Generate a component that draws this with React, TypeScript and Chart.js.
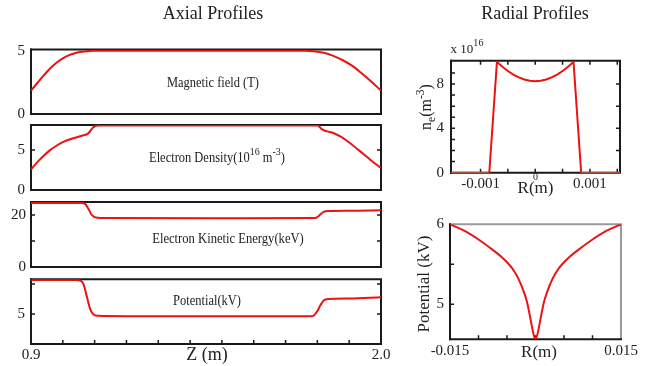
import React, { useEffect, useRef } from 'react';
import { Chart, registerables } from 'chart.js';

Chart.register(...registerables);

const W = 647;
const H = 366;
const SERIF = '"Liberation Serif", "Times New Roman", serif';
const RED = 'rgb(236, 18, 18)';
const INK = '#222';

// ---------- Axial profiles (Z in m) ----------
const zField = [0.90, 0.92, 0.94, 0.96, 0.98, 1.00, 1.02, 1.04, 1.06, 1.08, 1.10, 1.13, 1.76, 1.79, 1.82, 1.85, 1.88, 1.91, 1.94, 1.97, 2.00];
const bField = [1.85, 2.45, 3.05, 3.6, 4.05, 4.4, 4.65, 4.82, 4.92, 4.97, 5.0, 5.0, 5.0, 4.97, 4.85, 4.6, 4.25, 3.8, 3.2, 2.55, 1.85];

const zDensity = [0.90, 0.92, 0.94, 0.96, 0.98, 1.00, 1.03, 1.06, 1.08, 1.095, 1.11, 1.80, 1.815, 1.83, 1.85, 1.875, 1.90, 1.93, 1.96, 1.98, 2.00];
const nDensity = [2.6, 3.5, 4.3, 5.0, 5.55, 6.0, 6.45, 6.8, 7.1, 7.85, 8.1, 8.1, 7.6, 7.35, 7.15, 6.65, 5.95, 5.0, 4.0, 3.35, 2.75];

const zEnergy = [0.90, 1.06, 1.07, 1.08, 1.09, 1.10, 1.12, 1.50, 1.79, 1.80, 1.81, 1.82, 1.835, 1.90, 2.00];
const eEnergy = [24.6, 24.6, 24.3, 22.5, 20.2, 19.2, 18.85, 18.75, 18.8, 19.2, 20.3, 21.2, 21.5, 21.6, 21.8];

const zPotential = [0.90, 1.04, 1.055, 1.065, 1.075, 1.085, 1.095, 1.11, 1.20, 1.78, 1.79, 1.80, 1.81, 1.82, 1.835, 1.90, 2.00];
const vPotential = [6.14, 6.14, 6.12, 6.0, 5.6, 5.2, 5.0, 4.94, 4.93, 4.93, 4.96, 5.1, 5.3, 5.45, 5.5, 5.52, 5.56];

// ---------- Radial profiles (R in m) ----------
const rDensity = [-0.00154, -0.00084, -0.0007, -0.00065, -0.0006, -0.0005, -0.0004, -0.0003, -0.0002, -0.0001, 0, 0.0001, 0.0002, 0.0003, 0.0004, 0.0005, 0.0006, 0.00065, 0.0007, 0.00084, 0.00155];
const nRadial = [0, 0, 10.0, 9.77, 9.55, 9.17, 8.85, 8.6, 8.4, 8.29, 8.25, 8.29, 8.4, 8.6, 8.85, 9.17, 9.55, 9.77, 10.0, 0, 0];

const rPotential = [-0.015, -0.0125, -0.01, -0.0075, -0.006, -0.005, -0.004, -0.003, -0.002, -0.0015, -0.001, -0.0006, -0.0003, 0, 0.0003, 0.0006, 0.001, 0.0015, 0.002, 0.003, 0.004, 0.005, 0.006, 0.0075, 0.01, 0.0125, 0.015];
const vRadial = [6.0, 5.92, 5.81, 5.68, 5.595, 5.525, 5.44, 5.32, 5.145, 5.03, 4.86, 4.71, 4.61, 4.565, 4.61, 4.71, 4.86, 5.03, 5.145, 5.32, 5.44, 5.525, 5.595, 5.68, 5.81, 5.92, 6.0];

// ---------- tick values ----------
const zTickLabels = [0.9, 2.0];
const zTickMarks = [1.0, 1.1, 1.2, 1.3, 1.4, 1.5, 1.6, 1.7, 1.8, 1.9];
const fieldTickLabels = [0, 5];
const densityTickLabels = [0, 5];
const densityTickMarks = [5];
const energyTickLabels = [0, 20];
const energyTickMarks = [10, 20];
const potentialTickLabels = [5];
const potentialTickMarks = [5, 6];
const rnTickLabelsY = [0, 4, 8];
const rnTickMarksL = [1, 2, 3, 4, 5, 6, 7, 8, 9];
const rnTickMarksR = [2, 4, 6, 8];
const rnTickLabelsX = [-0.001, 0.001];
const rnTickMarksX = [-0.001, -0.0005, 0, 0.0005, 0.001, 0.0015];
const rvTickLabelsY = [5, 6];
const rvTickMarksL = [5, 5.5];
const rvTickLabelsX = [-0.015, 0.015];
const rvTickMarksX = [-0.01, -0.005, 0, 0.005, 0.01];

type Seg = { t: string; dy?: number; k?: number };
type TextItem = { segs: Seg[]; x: number; y: number; size: number; sx?: number; rot?: boolean };
type Edge = { t: string; r: string; b: string; l: string };
type PanelSpec = {
  key: string;
  area: { l: number; t: number; r: number; b: number };
  xs: number[];
  ys: number[];
  xRange: [number, number];
  yRange: [number, number];
  yLabels: number[];
  xLabels: number[];
  xFmt: (v: number) => string;
  xPad: number;
  yPad: number;
  xAxisH: number;
  tickL: number[];
  tickR: number[];
  tickB: number[];
  tickT: number[];
  edge: Edge;
  texts: TextItem[];
  smooth: boolean;
  zeroTint?: boolean;
};

const BLACK_EDGE: Edge = { t: '#1a1a1a', r: '#1a1a1a', b: '#1a1a1a', l: '#1a1a1a' };
const plain = (t: string): Seg[] => [{ t }];

function drawRich(ctx: CanvasRenderingContext2D, item: TextItem) {
  const fontOf = (s: Seg) => `${Math.round(item.size * (s.k ?? 1) * 10) / 10}px ${SERIF}`;
  const widths = item.segs.map((s) => {
    ctx.font = fontOf(s);
    return ctx.measureText(s.t).width;
  });
  const total = widths.reduce((a, b) => a + b, 0);
  ctx.save();
  ctx.translate(item.x, item.y);
  if (item.rot) ctx.rotate(-Math.PI / 2);
  ctx.scale(item.sx ?? 1, 1);
  ctx.fillStyle = INK;
  ctx.textAlign = 'left';
  ctx.textBaseline = 'middle';
  let x = -total / 2;
  item.segs.forEach((s, i) => {
    ctx.font = fontOf(s);
    ctx.fillText(s.t, x, (s.dy ?? 0) * item.size);
    x += widths[i];
  });
  ctx.restore();
}

function decoPlugin(spec: PanelSpec) {
  return {
    id: 'deco_' + spec.key,
    beforeDatasetsDraw(chart: any) {
      const { ctx, chartArea: a, scales } = chart;
      const xS = scales.x;
      const yS = scales.y;
      const TL = 4;
      ctx.save();
      ctx.strokeStyle = '#1a1a1a';
      ctx.lineWidth = 1.5;
      ctx.beginPath();
      spec.tickL.forEach((v) => { const y = yS.getPixelForValue(v); ctx.moveTo(a.left, y); ctx.lineTo(a.left + TL, y); });
      spec.tickR.forEach((v) => { const y = yS.getPixelForValue(v); ctx.moveTo(a.right, y); ctx.lineTo(a.right - TL, y); });
      spec.tickB.forEach((v) => { const x = xS.getPixelForValue(v); ctx.moveTo(x, a.bottom); ctx.lineTo(x, a.bottom - TL); });
      spec.tickT.forEach((v) => { const x = xS.getPixelForValue(v); ctx.moveTo(x, a.top); ctx.lineTo(x, a.top + TL); });
      ctx.stroke();
      ctx.lineWidth = 2;
      const seg = (x1: number, y1: number, x2: number, y2: number, c: string) => {
        ctx.strokeStyle = c;
        ctx.beginPath();
        ctx.moveTo(x1, y1);
        ctx.lineTo(x2, y2);
        ctx.stroke();
      };
      seg(a.left - 1, a.top, a.right + 1, a.top, spec.edge.t);
      seg(a.right, a.top, a.right, a.bottom, spec.edge.r);
      seg(a.left - 1, a.bottom, a.right + 1, a.bottom, spec.edge.b);
      seg(a.left, a.top - 1, a.left, a.bottom + 1, spec.edge.l);
      ctx.restore();
    },
    afterDraw(chart: any) {
      const ctx = chart.ctx as CanvasRenderingContext2D;
      spec.texts.forEach((t) => drawRich(ctx, t));
    },
  };
}

function buildConfig(spec: PanelSpec): any {
  const tickFont = { family: SERIF, size: 15 };
  const showX = spec.xLabels.length > 0;
  return {
    type: 'line',
    data: {
      datasets: [
        {
          data: spec.xs.map((x, i) => ({ x, y: spec.ys[i] })),
          borderColor: RED,
          borderWidth: 2,
          pointRadius: 0,
          fill: false,
          tension: 0,
          cubicInterpolationMode: spec.smooth ? 'monotone' : 'default',
          segment: spec.zeroTint
            ? { borderColor: (c: any) => (c.p0.parsed.y === 0 && c.p1.parsed.y === 0 ? 'rgb(214, 104, 72)' : undefined) }
            : undefined,
        },
      ],
    },
    options: {
      responsive: false,
      animation: false,
      devicePixelRatio: 1,
      events: [],
      layout: {
        padding: {
          left: 0,
          top: spec.area.t,
          right: W - spec.area.r,
          bottom: H - spec.area.b - (showX ? spec.xAxisH : 0),
        },
      },
      plugins: { legend: { display: false }, tooltip: { enabled: false }, title: { display: false } },
      scales: {
        x: {
          type: 'linear',
          min: spec.xRange[0],
          max: spec.xRange[1],
          display: showX,
          grid: { display: false, drawTicks: false },
          border: { display: false },
          ticks: {
            font: tickFont,
            color: INK,
            padding: spec.xPad,
            maxRotation: 0,
            autoSkip: false,
            callback: (v: number) => spec.xFmt(v),
          },
          afterBuildTicks: (s: any) => { s.ticks = spec.xLabels.map((value) => ({ value })); },
          afterFit: (s: any) => { s.height = spec.xAxisH; s.paddingLeft = 0; s.paddingRight = 0; },
        },
        y: {
          type: 'linear',
          min: spec.yRange[0],
          max: spec.yRange[1],
          grid: { display: false, drawTicks: false },
          border: { display: false },
          ticks: { font: tickFont, color: INK, padding: spec.yPad, autoSkip: false, callback: (v: number) => String(v) },
          afterBuildTicks: (s: any) => { s.ticks = spec.yLabels.map((value) => ({ value })); },
          afterFit: (s: any) => { s.width = spec.area.l; s.paddingTop = 0; s.paddingBottom = 0; },
        },
      },
    },
    plugins: [decoPlugin(spec)],
  };
}

const AX_L = 31;
const AX_R = 381;
const LABEL_SX = 0.89;
const none = (_v: number) => '';

const specs: PanelSpec[] = [
  {
    key: 'field',
    area: { l: AX_L, t: 49.5, r: AX_R, b: 114 },
    xs: zField, ys: bField, xRange: [0.9, 2.0], yRange: [0, 5.1],
    yLabels: fieldTickLabels, xLabels: [], xFmt: none, xPad: 2, yPad: 6, xAxisH: 0,
    tickL: [], tickR: [], tickB: [], tickT: [],
    edge: BLACK_EDGE, smooth: true,
    texts: [
      { segs: plain('Axial Profiles'), x: 213, y: 14.5, size: 18 },
      { segs: plain('Magnetic field (T)'), x: 213, y: 83, size: 14, sx: LABEL_SX },
    ],
  },
  {
    key: 'density',
    area: { l: AX_L, t: 125, r: AX_R, b: 190 },
    xs: zDensity, ys: nDensity, xRange: [0.9, 2.0], yRange: [0, 8.15],
    yLabels: densityTickLabels, xLabels: [], xFmt: none, xPad: 2, yPad: 6, xAxisH: 0,
    tickL: densityTickMarks, tickR: densityTickMarks, tickB: [], tickT: [],
    edge: BLACK_EDGE, smooth: true,
    texts: [
      {
        segs: [{ t: 'Electron Density(10' }, { t: '16', dy: -0.42, k: 0.8 }, { t: ' m' }, { t: '-3', dy: -0.42, k: 0.8 }, { t: ')' }],
        x: 217, y: 158, size: 14, sx: LABEL_SX,
      },
    ],
  },
  {
    key: 'energy',
    area: { l: AX_L, t: 202, r: AX_R, b: 267 },
    xs: zEnergy, ys: eEnergy, xRange: [0.9, 2.0], yRange: [0, 25],
    yLabels: energyTickLabels, xLabels: [], xFmt: none, xPad: 2, yPad: 5, xAxisH: 0,
    tickL: energyTickMarks, tickR: energyTickMarks, tickB: [], tickT: [],
    edge: BLACK_EDGE, smooth: true,
    texts: [{ segs: plain('Electron Kinetic Energy(keV)'), x: 228, y: 239.5, size: 14, sx: 0.9 }],
  },
  {
    key: 'potential',
    area: { l: AX_L, t: 279.3, r: AX_R, b: 344 },
    xs: zPotential, ys: vPotential, xRange: [0.9, 2.0], yRange: [4.0, 6.16],
    yLabels: potentialTickLabels, xLabels: zTickLabels, xFmt: (v) => v.toFixed(1), xPad: 2, yPad: 6, xAxisH: 20,
    tickL: potentialTickMarks, tickR: potentialTickMarks, tickB: zTickMarks, tickT: [],
    edge: BLACK_EDGE, smooth: true,
    texts: [
      { segs: plain('Potential(kV)'), x: 207, y: 301.5, size: 14, sx: LABEL_SX },
      { segs: plain('Z (m)'), x: 207, y: 355, size: 18 },
    ],
  },
  {
    key: 'radialDensity',
    area: { l: 451, t: 60.7, r: 620, b: 172.7 },
    xs: rDensity, ys: nRadial, xRange: [-0.00154, 0.00155], yRange: [0, 10.1],
    yLabels: rnTickLabelsY, xLabels: rnTickLabelsX, xFmt: (v) => v.toFixed(3), xPad: 2, yPad: 7, xAxisH: 20,
    tickL: rnTickMarksL, tickR: rnTickMarksR, tickB: rnTickMarksX, tickT: rnTickMarksX,
    edge: BLACK_EDGE, smooth: false, zeroTint: true,
    texts: [
      { segs: plain('Radial Profiles'), x: 535, y: 14.5, size: 18 },
      { segs: [{ t: 'x 10' }, { t: '16', dy: -0.55, k: 0.78 }], x: 467, y: 50, size: 13 },
      { segs: plain('0'), x: 535.5, y: 177.5, size: 10 },
      { segs: plain('R(m)'), x: 535.5, y: 189, size: 17 },
      {
        segs: [{ t: 'n' }, { t: 'e', dy: 0.3, k: 0.72 }, { t: '(m' }, { t: '-3', dy: -0.4, k: 0.72 }, { t: ')' }],
        x: 427, y: 107, size: 16, rot: true,
      },
    ],
  },
  {
    key: 'radialPotential',
    area: { l: 450, t: 224.3, r: 621, b: 339.3 },
    xs: rPotential, ys: vRadial, xRange: [-0.015, 0.015], yRange: [4.56, 6.0],
    yLabels: rvTickLabelsY, xLabels: rvTickLabelsX, xFmt: (v) => v.toFixed(3), xPad: 3, yPad: 6, xAxisH: 22,
    tickL: rvTickMarksL, tickR: [], tickB: rvTickMarksX, tickT: [],
    edge: { t: '#9a9a9a', r: '#9a9a9a', b: '#1a1a1a', l: '#1a1a1a' }, smooth: true,
    texts: [
      { segs: plain('R(m)'), x: 539, y: 352.5, size: 17 },
      { segs: plain('Potential (kV)'), x: 425, y: 284, size: 17, rot: true },
    ],
  },
];

function Panel({ spec }: { spec: PanelSpec }) {
  const ref = useRef<HTMLCanvasElement>(null);
  useEffect(() => {
    if (!ref.current) return;
    const chart = new Chart(ref.current, buildConfig(spec));
    return () => chart.destroy();
  }, [spec]);
  return (
    <canvas
      ref={ref}
      width={W}
      height={H}
      style={{ position: 'absolute', left: 0, top: 0, width: W, height: H }}
    />
  );
}

export default function App() {
  return (
    <div style={{ position: 'absolute', left: 0, top: 0, width: W, height: H, background: '#fff', overflow: 'hidden' }}>
      {specs.map((s) => (
        <Panel key={s.key} spec={s} />
      ))}
    </div>
  );
}
